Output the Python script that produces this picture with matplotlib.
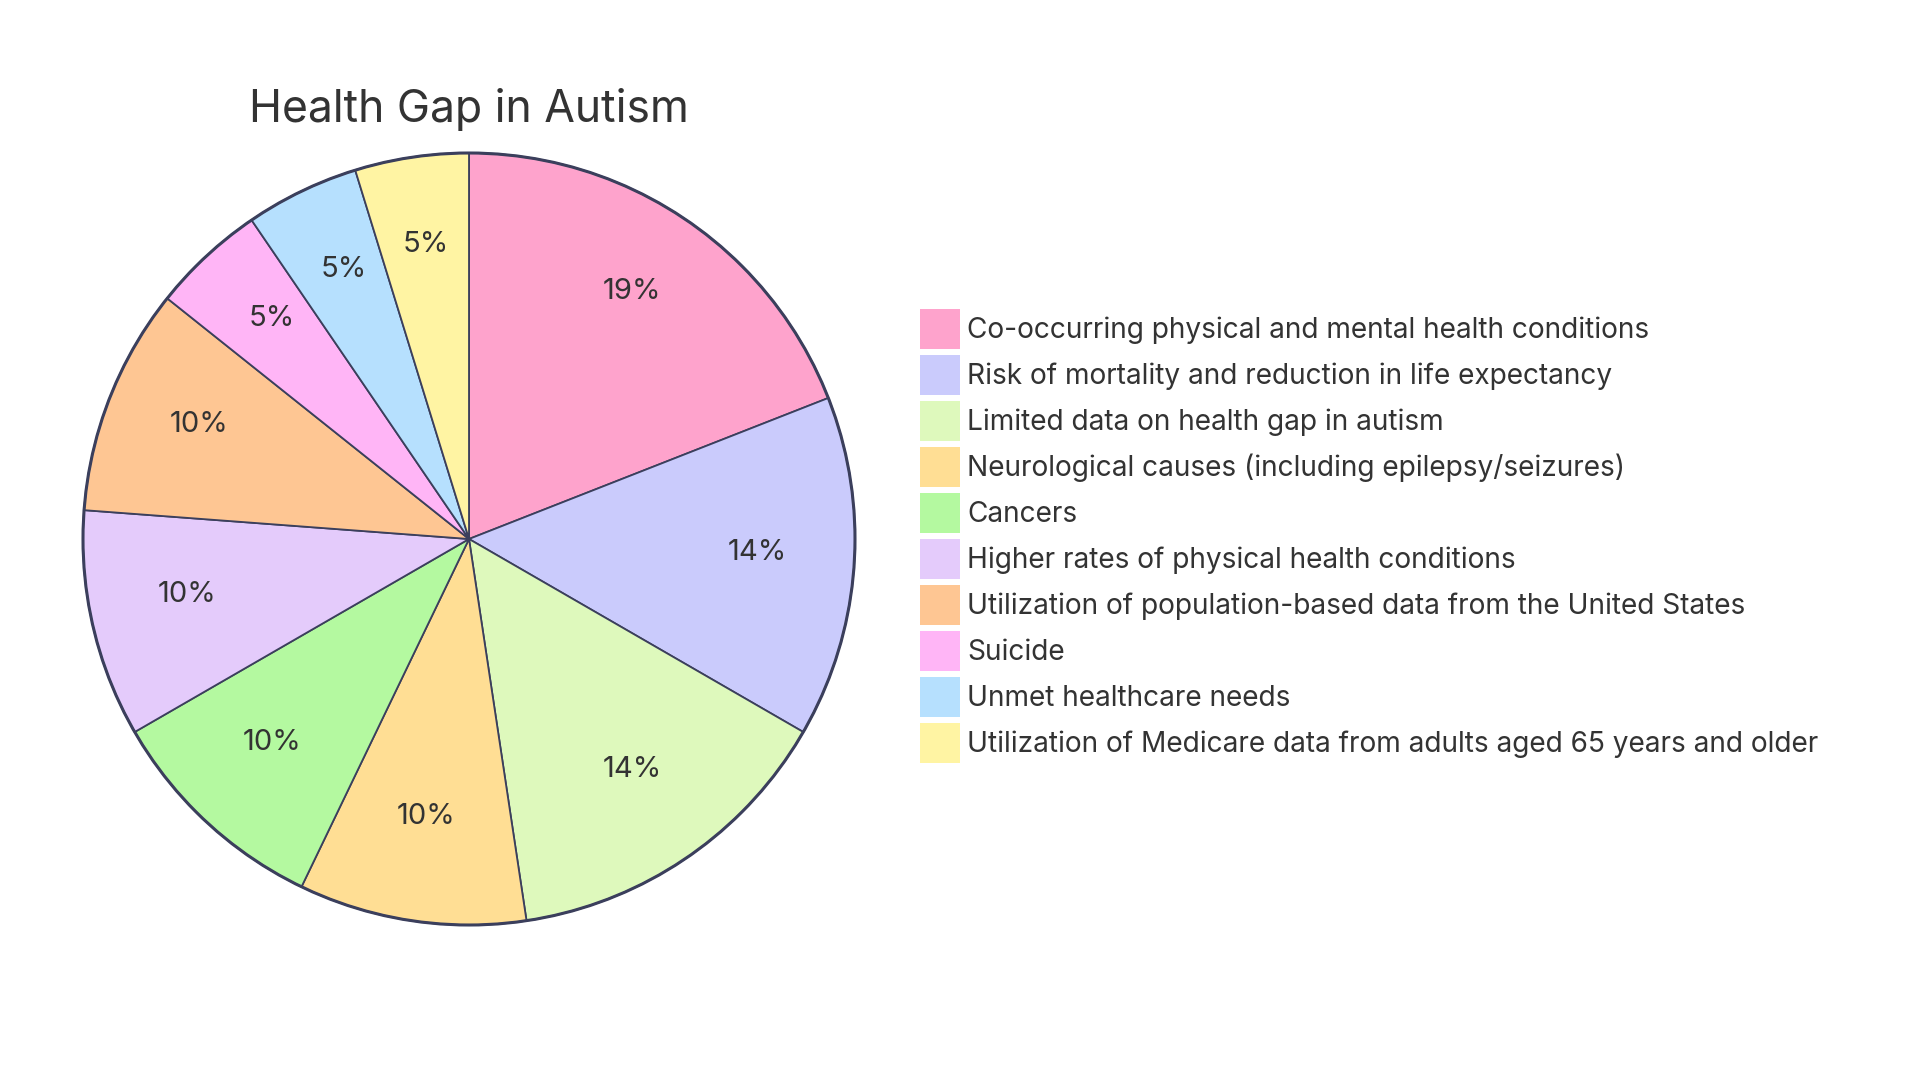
import matplotlib
matplotlib.use('Agg')
import matplotlib.pyplot as plt
from matplotlib.patches import Rectangle, Circle

plt.rcParams['font.family'] = ['Inter', 'DejaVu Sans']

labels = [
    'Co-occurring physical and mental health conditions',
    'Risk of mortality and reduction in life expectancy',
    'Limited data on health gap in autism',
    'Neurological causes (including epilepsy/seizures)',
    'Cancers',
    'Higher rates of physical health conditions',
    'Utilization of population-based data from the United States',
    'Suicide',
    'Unmet healthcare needs',
    'Utilization of Medicare data from adults aged 65 years and older',
]
values = [4, 3, 3, 2, 2, 2, 2, 1, 1, 1]
colors = ['#FEA3CC', '#CACBFC', '#DEF9BC', '#FFDE94', '#B4F9A0',
          '#E4CBFB', '#FEC693', '#FFB5F6', '#B6E0FE', '#FFF4A3']

edge = '#3B3F5C'
text_col = '#333333'

fig = plt.figure(figsize=(19.2, 10.8), dpi=100)
ax = fig.add_axes([0, 0, 1, 1])

cx, cy, r = 469, 1080 - 539, 386

wedges, texts, autotexts = ax.pie(
    values, colors=colors, startangle=90, counterclock=False,
    center=(cx, cy), radius=r, frame=True,
    autopct=lambda p: '{:.0f}%'.format(p), pctdistance=0.75,
    wedgeprops=dict(edgecolor=edge, linewidth=1.3),
    textprops=dict(fontsize=21, color=text_col))
for t in autotexts:
    x, y = t.get_position()
    t.set_position((x, y + 8.5))
ax.set_xlim(0, 1920)
ax.set_ylim(0, 1080)
ax.set_aspect('equal')
ax.axis('off')
ax.add_patch(Circle((cx, cy), r, fill=False, edgecolor=edge, linewidth=2.2))

ax.text(cx, 1080 - 109.5, 'Health Gap in Autism', fontsize=32, color=text_col,
        ha='center', va='center')

# legend
for i, (lab, col) in enumerate(zip(labels, colors)):
    top = 1080 - 309 - 46 * i
    ax.add_patch(Rectangle((920, top - 40), 40, 40, facecolor=col,
                           edgecolor='none'))
    ax.text(967, top - 21, lab, fontsize=20.2, color=text_col,
            ha='left', va='center')

fig.savefig('out.png', dpi=100)
